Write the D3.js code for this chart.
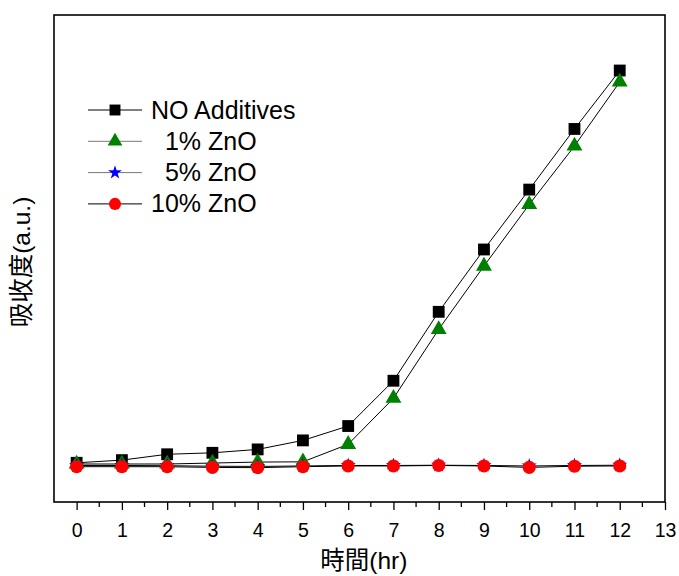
<!DOCTYPE html>
<html>
<head>
<meta charset="utf-8">
<script src="https://cdn.jsdelivr.net/npm/d3@7"></script>
<style>
  body { margin: 0; background: #fff; }
  svg { display: block; font-family: "Liberation Sans", Arial, "Noto Sans CJK TC", sans-serif; }
</style>
</head>
<body>
<svg id="chart" width="679" height="576"></svg>
<script>
// data (absorbance, arbitrary units)
const hours = [0, 1, 2, 3, 4, 5, 6, 7, 8, 9, 10, 11, 12]
const noAdditives = [0.161, 0.172, 0.196, 0.202, 0.216, 0.253, 0.312, 0.498, 0.781, 1.037, 1.283, 1.532, 1.772]
const zno1 = [0.156, 0.156, 0.156, 0.160, 0.164, 0.165, 0.237, 0.426, 0.709, 0.969, 1.222, 1.462, 1.725]
const zno5 = [0.150, 0.150, 0.149, 0.147, 0.146, 0.148, 0.150, 0.150, 0.151, 0.150, 0.148, 0.150, 0.151]
const zno10 = [0.145, 0.145, 0.145, 0.142, 0.141, 0.145, 0.148, 0.148, 0.150, 0.148, 0.142, 0.147, 0.148]
const xTicks = d3.range(0, 14)

const series = [
  { name: "NO Additives", values: noAdditives, symbol: d3.symbolSquare, size: 140, fill: "#000", legendLine: "#000" },
  { name: "  1% ZnO", values: zno1, symbol: d3.symbolTriangle, size: 110, fill: "#008000", legendLine: "#777" },
  { name: "  5% ZnO", values: zno5, symbol: d3.symbolStar, size: 70, fill: "#0000ff", legendLine: "#777" },
  { name: "10% ZnO", values: zno10, symbol: d3.symbolCircle, size: 135, fill: "#ff0000", legendLine: "#000" }
]

const svg = d3.select("#chart")
const plotL = 54, plotR = 665, plotT = 15, plotB = 502

const x = d3.scaleLinear().domain([-0.5, 13]).range([plotL, plotR])
const y = d3.scaleLinear().domain([0, 2]).range([plotB, plotT])

// lines first, then markers
const line = d3.line()
  .x((d, i) => x(hours[i]))
  .y(d => y(d))

series.forEach(s => {
  svg.append("path")
    .datum(s.values)
    .attr("d", line)
    .attr("fill", "none")
    .attr("stroke", "#000")
    .attr("stroke-width", 1)
})

series.forEach(s => {
  svg.append("g").selectAll("path")
    .data(s.values)
    .enter().append("path")
      .attr("transform", (d, i) => `translate(${x(hours[i])},${y(d)})`)
      .attr("d", d3.symbol().type(s.symbol).size(s.size))
      .attr("fill", s.fill)
})

// frame
svg.append("rect")
  .attr("x", plotL).attr("y", plotT)
  .attr("width", plotR - plotL).attr("height", plotB - plotT)
  .attr("fill", "none")
  .attr("stroke", "#000")
  .attr("stroke-width", 1.6)

// bottom axis
const xAxis = d3.axisBottom(x)
  .tickValues(xTicks)
  .tickSize(8)
  .tickPadding(13)
  .tickFormat(d3.format("d"))

const gx = svg.append("g")
  .attr("transform", `translate(0,${plotB})`)
  .call(xAxis)
gx.select(".domain").remove()
gx.selectAll(".tick line").attr("stroke-width", 1.3)
gx.selectAll(".tick text")
  .attr("font-size", 19.5)
  .attr("font-family", "'Liberation Sans', Arial, sans-serif")
  .attr("fill", "#000")

const minor = d3.range(-0.5, 13.01, 1).filter(v => v > -0.5)
svg.append("g").selectAll("line")
  .data(minor)
  .enter().append("line")
    .attr("x1", d => x(d)).attr("x2", d => x(d))
    .attr("y1", plotB).attr("y2", plotB + 5)
    .attr("stroke", "#000")
    .attr("stroke-width", 1.3)

// axis titles
svg.append("text")
  .attr("x", x(6.5) - 7)
  .attr("y", 569)
  .attr("text-anchor", "middle")
  .attr("font-size", 24.5)
  .text("時間(hr)")

svg.append("text")
  .attr("transform", "translate(30,262) rotate(-90)")
  .attr("text-anchor", "middle")
  .attr("font-size", 24.5)
  .text("吸收度(a.u.)")

// legend
const legend = svg.append("g")
series.forEach((s, i) => {
  const ly = 110 + i * 31.3
  legend.append("line")
    .attr("x1", 88).attr("x2", 142)
    .attr("y1", ly).attr("y2", ly)
    .attr("stroke", s.legendLine)
    .attr("stroke-width", 1)
  legend.append("path")
    .attr("transform", `translate(115,${ly})`)
    .attr("d", d3.symbol().type(s.symbol).size(s.size * 0.85))
    .attr("fill", s.fill)
  legend.append("text")
    .attr("x", 151)
    .attr("y", ly + 8.5)
    .attr("font-size", 25)
    .style("white-space", "pre")
    .text(s.name)
})
</script>
</body>
</html>
